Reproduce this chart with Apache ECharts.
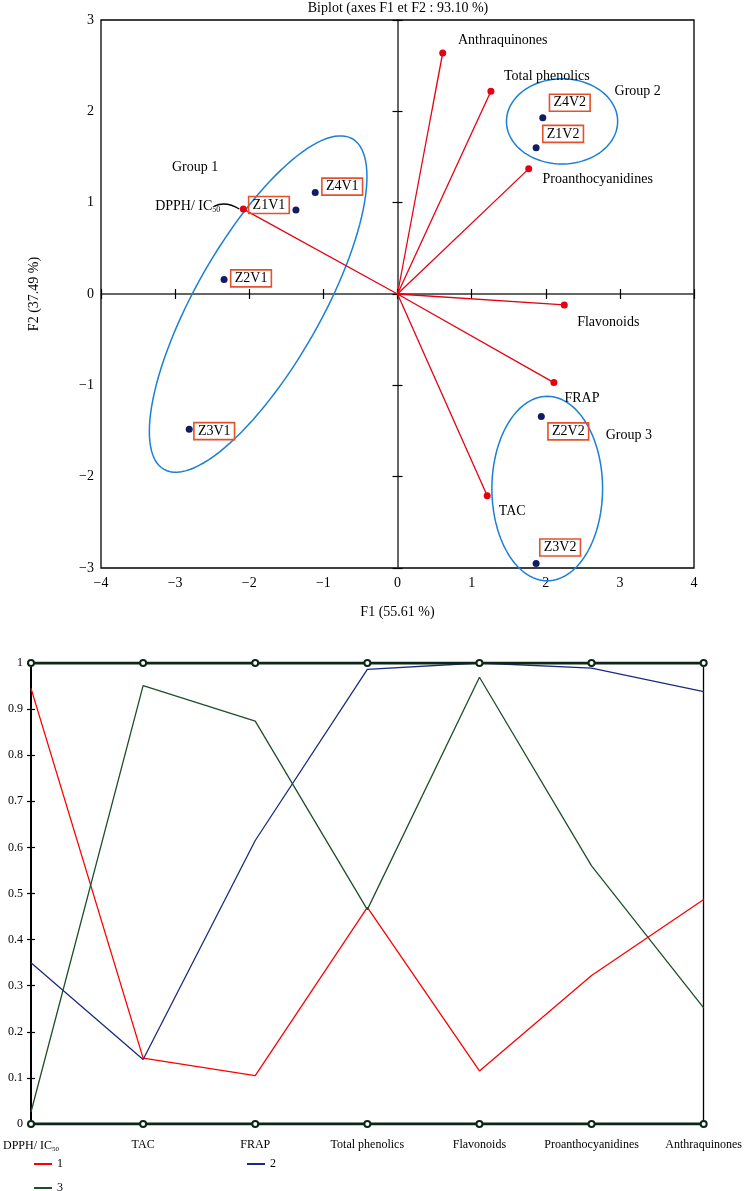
<!DOCTYPE html>
<html>
<head>
<meta charset="utf-8">
<script src="https://cdn.jsdelivr.net/npm/echarts@6/dist/echarts.min.js"></script>
<style>
html,body{margin:0;padding:0;background:#fff;}
#c{width:745px;height:1191px;}
</style>
</head>
<body>
<div id="c"></div>
<script>
// ---------- Biplot data ----------
const varNames = ['Anthraquinones', 'Total phenolics', 'Proanthocyanidines', 'Flavonoids', 'FRAP', 'TAC', 'DPPH/ IC50'];
const varF1 = [0.61, 1.26, 1.77, 2.25, 2.11, 1.21, -2.08];
const varF2 = [2.64, 2.22, 1.37, -0.12, -0.97, -2.21, 0.93];

const obsNames = ['Z1V1', 'Z2V1', 'Z3V1', 'Z4V1', 'Z1V2', 'Z2V2', 'Z3V2', 'Z4V2'];
const obsF1 = [-1.37, -2.34, -2.81, -1.11, 1.87, 1.94, 1.87, 1.96];
const obsF2 = [0.92, 0.16, -1.48, 1.11, 1.60, -1.34, -2.95, 1.93];

const groupNames = ['Group 1', 'Group 2', 'Group 3'];
// ellipse: center, end of first semi-axis (data units), ratio of second semi-axis
const ellCx = [-1.88, 2.22, 2.02];
const ellCy = [-0.11, 1.89, -2.13];
const ellAx = [-0.61, 2.97, 2.02];
const ellAy = [1.70, 1.89, -1.12];
const ellRatio = [0.33, 0.766, 0.60];

// ---------- Profile data ----------
const profCats = ['DPPH/ IC50', 'TAC', 'FRAP', 'Total phenolics', 'Flavonoids', 'Proanthocyanidines', 'Anthraquinones'];
const prof1 = [0.945, 0.143, 0.105, 0.47, 0.115, 0.322, 0.487];
const prof2 = [0.35, 0.14, 0.615, 0.986, 1.0, 0.989, 0.938];
const prof3 = [0.026, 0.951, 0.874, 0.465, 0.969, 0.56, 0.252];
const profMax = [1, 1, 1, 1, 1, 1, 1];
const profMin = [0, 0, 0, 0, 0, 0, 0];

// ---------- layout / style (not data) ----------
const SERIF = '"Liberation Serif", "DejaVu Serif", serif';
const TXT = '#000';
const varLabelOffset = [[60, -13], [56, -15], [69, 10], [44, 17], [28, 16], [25, 15], [-23, -3]];
const obsLabelOffset = [[-27, -5], [27, -1], [25, 2], [27, -6], [27, -14], [27, 15], [24, -16], [27, -15]];
const groupLabelPos = [[-2.73, 1.39], [3.24, 2.22], [3.12, -1.55]];

const minus = v => String(v).replace('-', '\u2212');

const chart = echarts.init(document.getElementById('c'), null, {renderer: 'canvas'});

const option = {
  animation: false,
  backgroundColor: '#fff',
  textStyle: {fontFamily: SERIF},
  title: {
    text: 'Biplot (axes F1 et F2 : 93.10 %)',
    left: 398, textAlign: 'center', top: 1, padding: 0,
    textStyle: {fontFamily: SERIF, fontSize: 14, fontWeight: 'normal', color: TXT}
  },
  grid: [
    {left: 101, right: 51, top: 20, bottom: 623, show: true, borderColor: '#000', borderWidth: 1.3, backgroundColor: 'transparent'},
    {left: 30, right: 39, top: 663, bottom: 67}
  ],
  legend: [
    {data: ['1', '2'], left: 29, top: 1153, orient: 'horizontal', itemWidth: 18, itemHeight: 2, itemGap: 184,
     icon: 'rect', textStyle: {fontFamily: SERIF, fontSize: 12, color: TXT}, selectedMode: false},
    {data: ['3'], left: 29, top: 1177, orient: 'horizontal', itemWidth: 18, itemHeight: 2,
     icon: 'rect', textStyle: {fontFamily: SERIF, fontSize: 12, color: TXT}, selectedMode: false}
  ],
  xAxis: [
    {gridIndex: 0, type: 'value', min: -4, max: 4, interval: 1, position: 'bottom',
     axisLine: {show: false, onZero: false}, axisTick: {show: false}, splitLine: {show: false},
     axisLabel: {formatter: minus, fontSize: 14, color: TXT, margin: 8, fontFamily: SERIF},
     name: 'F1 (55.61 %)', nameLocation: 'middle', nameGap: 37,
     nameTextStyle: {fontSize: 14, color: TXT, fontFamily: SERIF}},
    {gridIndex: 0, type: 'value', min: -4, max: 4, interval: 1, position: 'bottom',
     axisLine: {show: true, onZero: true, lineStyle: {color: '#333', width: 1.5}},
     axisTick: {show: true, inside: true, length: 5, lineStyle: {color: '#000', width: 1.2}},
     axisLabel: {show: false}, splitLine: {show: false}},
    {gridIndex: 0, type: 'value', min: -4, max: 4, interval: 1, position: 'bottom',
     axisLine: {show: false, onZero: true},
     axisTick: {show: true, inside: false, length: 5, lineStyle: {color: '#000', width: 1.2}},
     axisLabel: {show: false}, splitLine: {show: false}},
    {gridIndex: 1, type: 'category', data: profCats, boundaryGap: false,
     axisLine: {show: false}, axisTick: {show: false}, splitLine: {show: false},
     axisLabel: {interval: 0, fontSize: 12, color: TXT, margin: 15, fontFamily: SERIF,
       formatter: v => v === 'DPPH/ IC50' ? '{a|DPPH/ IC}{s|50}' : v,
       rich: {a: {fontSize: 12, fontFamily: SERIF, color: TXT},
              s: {fontSize: 7, fontFamily: SERIF, color: TXT, padding: [7, 0, 0, 0]}}}}
  ],
  yAxis: [
    {gridIndex: 0, type: 'value', min: -3, max: 3, interval: 1, position: 'left',
     axisLine: {show: false, onZero: false}, axisTick: {show: false}, splitLine: {show: false},
     axisLabel: {formatter: minus, fontSize: 14, color: TXT, margin: 7, fontFamily: SERIF},
     name: 'F2 (37.49 %)', nameLocation: 'middle', nameGap: 60, nameRotate: 90,
     nameTextStyle: {fontSize: 14, color: TXT, fontFamily: SERIF}},
    {gridIndex: 0, type: 'value', min: -3, max: 3, interval: 1, position: 'left',
     axisLine: {show: true, onZero: true, lineStyle: {color: '#333', width: 1.5}},
     axisTick: {show: true, inside: true, length: 5, lineStyle: {color: '#000', width: 1.2}},
     axisLabel: {show: false}, splitLine: {show: false}},
    {gridIndex: 0, type: 'value', min: -3, max: 3, interval: 1, position: 'left',
     axisLine: {show: false, onZero: true},
     axisTick: {show: true, inside: false, length: 5, lineStyle: {color: '#000', width: 1.2}},
     axisLabel: {show: false}, splitLine: {show: false}},
    {gridIndex: 1, type: 'value', min: 0, max: 1, interval: 0.1, position: 'left',
     axisLine: {show: true, onZero: false, lineStyle: {color: '#000', width: 2}},
     axisTick: {show: true, inside: false, length: 4, lineStyle: {color: '#000', width: 1.2}},
     splitLine: {show: false},
     axisLabel: {fontSize: 12, color: TXT, margin: 8, fontFamily: SERIF,
       formatter: v => (v === 0 ? '0' : (Math.abs(v - 1) < 1e-9 ? '1' : v.toFixed(1)))}},
    {gridIndex: 1, type: 'value', min: 0, max: 1, interval: 0.1, position: 'left',
     axisLine: {show: false, onZero: false},
     axisTick: {show: true, inside: true, length: 4, lineStyle: {color: '#000', width: 1.2}},
     axisLabel: {show: false}, splitLine: {show: false}},
    {gridIndex: 1, type: 'value', min: 0, max: 1, interval: 0.1, position: 'right',
     axisLine: {show: true, onZero: false, lineStyle: {color: '#000', width: 1.3}},
     axisTick: {show: false}, axisLabel: {show: false}, splitLine: {show: false}}
  ],
  series: [
    // group ellipses
    {
      type: 'custom', xAxisIndex: 0, yAxisIndex: 0, silent: true, clip: false, z: 3,
      data: ellCx.map((x, i) => [x, ellCy[i]]),
      renderItem: function (params, api) {
        const i = params.dataIndex;
        const c = api.coord([ellCx[i], ellCy[i]]);
        const e = api.coord([ellAx[i], ellAy[i]]);
        const ux = e[0] - c[0], uy = e[1] - c[1];
        const vx = -uy * ellRatio[i], vy = ux * ellRatio[i];
        const pts = [];
        for (let k = 0; k < 120; k++) {
          const t = 2 * Math.PI * k / 120;
          pts.push([c[0] + ux * Math.cos(t) + vx * Math.sin(t), c[1] + uy * Math.cos(t) + vy * Math.sin(t)]);
        }
        return {type: 'polygon', shape: {points: pts}, style: {fill: 'none', stroke: '#1b7fd8', lineWidth: 1.5}};
      }
    },
    // variable vectors
    {
      type: 'lines', coordinateSystem: 'cartesian2d', xAxisIndex: 0, yAxisIndex: 0, silent: true, z: 4,
      lineStyle: {color: '#e60012', width: 1.3, opacity: 1},
      data: varF1.map((x, i) => ({coords: [[0, 0], [x, varF2[i]]]}))
    },
    // variable end points with labels
    {
      type: 'scatter', xAxisIndex: 0, yAxisIndex: 0, symbolSize: 7, z: 5,
      itemStyle: {color: '#e60012', opacity: 1},
      data: varNames.map((n, i) => ({
        name: n, value: [varF1[i], varF2[i]],
        label: {
          show: true, position: 'inside', offset: varLabelOffset[i],
          align: n === 'DPPH/ IC50' ? 'right' : 'center', verticalAlign: 'middle',
          color: TXT, fontSize: 14, fontFamily: SERIF,
          formatter: n === 'DPPH/ IC50' ? '{a|DPPH/ IC}{s|50}' : n,
          rich: {a: {fontSize: 14, fontFamily: SERIF, color: TXT},
                 s: {fontSize: 8, fontFamily: SERIF, color: TXT, padding: [8, 0, 0, 0]}}
        }
      }))
    },
    // leader curve for DPPH label
    {
      type: 'custom', xAxisIndex: 0, yAxisIndex: 0, silent: true, z: 5,
      data: [[varF1[6], varF2[6]]],
      renderItem: function (params, api) {
        const p = api.coord([api.value(0), api.value(1)]);
        return {type: 'bezierCurve',
          shape: {x1: p[0] - 29, y1: p[1] - 3, cpx1: p[0] - 20, cpy1: p[1] - 7, cpx2: p[0] - 12, cpy2: p[1] - 5, x2: p[0] - 4, y2: p[1]},
          style: {fill: 'none', stroke: '#000', lineWidth: 1.3}};
      }
    },
    // observations
    {
      type: 'scatter', xAxisIndex: 0, yAxisIndex: 0, symbolSize: 7, z: 6,
      itemStyle: {color: '#121c63', opacity: 1},
      data: obsNames.map((n, i) => ({
        name: n, value: [obsF1[i], obsF2[i]],
        label: {
          show: true, position: 'inside', offset: obsLabelOffset[i], formatter: n,
          align: 'center', verticalAlign: 'middle',
          color: TXT, fontSize: 14, fontFamily: SERIF,
          borderColor: '#e4512c', borderWidth: 1.6, padding: [2, 4, 1, 4]
        }
      }))
    },
    // group labels
    {
      type: 'scatter', xAxisIndex: 0, yAxisIndex: 0, symbolSize: 0, silent: true, z: 6,
      itemStyle: {opacity: 1},
      data: groupNames.map((n, i) => ({
        name: n, value: groupLabelPos[i],
        label: {show: true, position: 'inside', formatter: n, color: TXT, fontSize: 14, fontFamily: SERIF}
      }))
    },
    // profile chart
    {name: '1', type: 'line', xAxisIndex: 3, yAxisIndex: 3, data: prof1, symbol: 'none',
     lineStyle: {color: '#ff0000', width: 1.3}, itemStyle: {color: '#ff0000'}, z: 3},
    {name: '2', type: 'line', xAxisIndex: 3, yAxisIndex: 3, data: prof2, symbol: 'none',
     lineStyle: {color: '#1c2a80', width: 1.3}, itemStyle: {color: '#1c2a80'}, z: 3},
    {name: '3', type: 'line', xAxisIndex: 3, yAxisIndex: 3, data: prof3, symbol: 'none',
     lineStyle: {color: '#1d4f2a', width: 1.3}, itemStyle: {color: '#1d4f2a'}, z: 3},
    {name: 'max', type: 'line', xAxisIndex: 3, yAxisIndex: 3, data: profMax, symbol: 'emptyCircle', symbolSize: 6,
     lineStyle: {color: '#0b2716', width: 3}, itemStyle: {color: '#0b2716', borderWidth: 1.5, borderColor: '#111'}, z: 5, silent: true},
    {name: 'min', type: 'line', xAxisIndex: 3, yAxisIndex: 3, data: profMin, symbol: 'emptyCircle', symbolSize: 6,
     lineStyle: {color: '#0b2716', width: 3}, itemStyle: {color: '#0b2716', borderWidth: 1.5, borderColor: '#111'}, z: 5, silent: true}
  ]
};
chart.setOption(option);
</script>
</body>
</html>
